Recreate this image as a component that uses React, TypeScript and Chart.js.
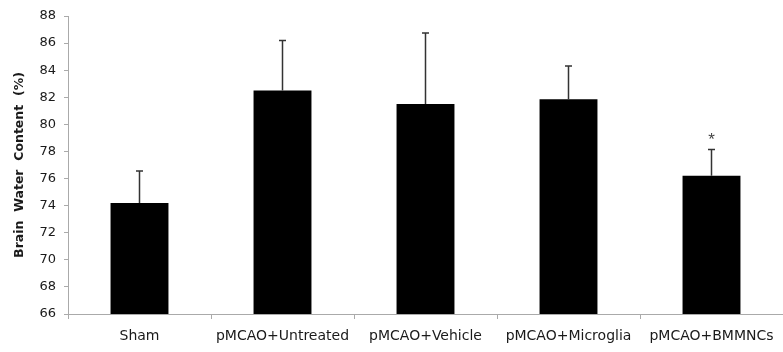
import React, { useEffect, useRef } from "react";
import { Chart, registerables } from "chart.js";

Chart.register(...registerables);

const categories = ["Sham", "pMCAO+Untreated", "pMCAO+Vehicle", "pMCAO+Microglia", "pMCAO+BMMNCs"];
const means = [74.2, 82.5, 81.5, 81.85, 76.2];
const errors = [2.35, 3.7, 5.25, 2.45, 1.95];
const significance = ["", "", "", "", "*"];
const yTicksMin = 66;
const yTicksMax = 88;
const yStep = 2;
const yTitle = "Brain  Water  Content  (%)";

const errorBarPlugin = {
  id: "errorBars",
  afterDatasetsDraw(chart: any) {
    const ctx = chart.ctx;
    const meta = chart.getDatasetMeta(0);
    const y = chart.scales.y;
    ctx.save();
    meta.data.forEach((bar: any, i: number) => {
      const x = bar.x;
      const top = y.getPixelForValue(means[i]);
      const end = y.getPixelForValue(means[i] + errors[i]);
      ctx.strokeStyle = "#333";
      ctx.lineWidth = 1.5;
      ctx.beginPath();
      ctx.moveTo(x, top);
      ctx.lineTo(x, end);
      ctx.moveTo(x - 3.5, end);
      ctx.lineTo(x + 3.5, end);
      ctx.stroke();
      if (significance[i]) {
        ctx.fillStyle = "#444";
        ctx.font = "17px 'Liberation Sans', Arial, sans-serif";
        ctx.textAlign = "center";
        ctx.textBaseline = "middle";
        ctx.fillText(significance[i], x, end - 9);
      }
    });
    ctx.restore();
  },
};

export default function App() {
  const ref = useRef<HTMLCanvasElement>(null);
  useEffect(() => {
    document.body.style.margin = "0";
    const chart = new Chart(ref.current!, {
      type: "bar",
      data: {
        labels: categories,
        datasets: [
          {
            data: means,
            backgroundColor: "#000",
            borderWidth: 0,
            barPercentage: 0.81,
            categoryPercentage: 0.5,
          },
        ],
      },
      options: {
        responsive: false,
        animation: false,
        layout: { padding: { top: 16, right: 0, left: 0, bottom: 0 } },
        plugins: { legend: { display: false }, tooltip: { enabled: false } },
        scales: {
          x: {
            grid: {
              display: true,
              drawOnChartArea: false,
              color: "#aaa",
              tickLength: 5,
              offset: true,
            },
            border: { color: "#aaa", width: 1 },
            ticks: {
              color: "#1a1a1a",
              font: { family: "'DejaVu Sans', sans-serif", size: 14 },
              maxRotation: 0,
              autoSkip: false,
              padding: 9,
            },
            afterFit: (s: any) => {
              s.height = 38;
            },
          },
          y: {
            min: yTicksMin,
            max: yTicksMax,
            grid: {
              display: true,
              drawOnChartArea: false,
              color: "#aaa",
              tickLength: 4,
            },
            border: { color: "#aaa", width: 1 },
            ticks: {
              stepSize: yStep,
              color: "#1a1a1a",
              font: { family: "'DejaVu Sans', sans-serif", size: 13 },
              padding: 8,
            },
            title: {
              display: true,
              text: yTitle,
              color: "#1a1a1a",
              font: { family: "'DejaVu Sans', sans-serif", size: 12.5, weight: "bold" },
              padding: { top: 12, bottom: 4 },
            },
            afterFit: (s: any) => {
              s.width = 68;
            },
          },
        },
      },
      plugins: [errorBarPlugin],
    });
    return () => chart.destroy();
  }, []);
  return <canvas ref={ref} width={783} height={352} style={{ display: "block" }} />;
}
